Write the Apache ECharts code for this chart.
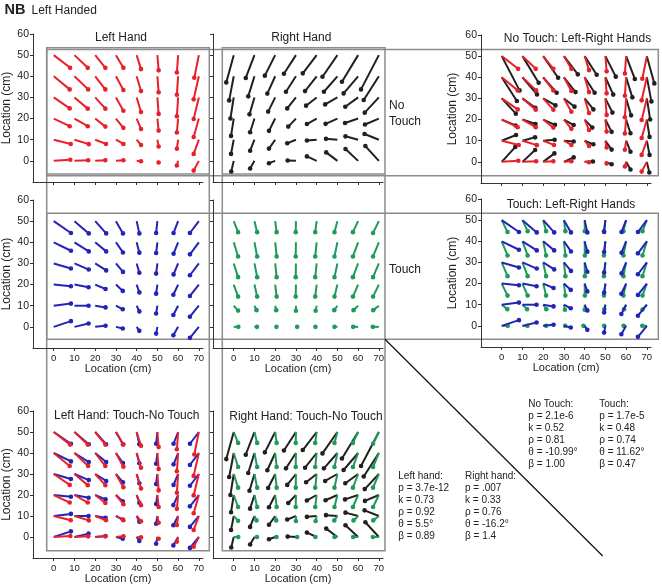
<!DOCTYPE html>
<html><head><meta charset="utf-8">
<script src="https://cdn.jsdelivr.net/npm/echarts@6/dist/echarts.min.js"></script>
<style>html,body{margin:0;padding:0;background:#fff}#c{width:662px;height:587px}</style>
</head><body><div id="c"></div>
<script>
// ---- grid locations (cm) ----
const gridX = [0, 10, 20, 30, 40, 50, 60, 70];
const gridY = [50, 40, 30, 20, 10, 0];
const xTicks = [0, 10, 20, 30, 40, 50, 60, 70];
const yTicks = [0, 10, 20, 30, 40, 50, 60];

// ---- perceived end locations, rows follow gridY, columns follow gridX ----
// Left hand, no touch (red)
const leftNoTouchEndX = [
  [7.9, 16.4, 24.9, 33.6, 42.1, 50.6, 59.4, 67.8],
  [7.7, 16.6, 24.9, 33.6, 42.1, 50.6, 59.4, 67.5],
  [7.7, 16.4, 24.9, 33.6, 42.1, 50.6, 59.4, 67.5],
  [7.7, 16.4, 24.9, 33.6, 42.1, 50.6, 59.4, 67.5],
  [8.2, 16.9, 25.2, 33.6, 42.1, 50.6, 59.4, 67.5],
  [8.0, 16.6, 24.9, 33.6, 42.1, 50.6, 59.4, 67.5]
];
const leftNoTouchEndY = [
  [44.0, 44.0, 44.0, 44.0, 43.4, 42.8, 41.8, 39.3],
  [33.8, 33.8, 33.8, 33.5, 33.0, 32.4, 31.3, 29.1],
  [24.8, 24.7, 24.7, 23.7, 23.1, 22.2, 21.1, 19.8],
  [16.4, 16.4, 16.2, 15.6, 15.1, 14.3, 13.4, 11.3],
  [8.0, 7.9, 8.0, 8.0, 7.5, 6.8, 5.7, 3.3],
  [0.5, 0.3, 0.3, 0.3, -0.2, -0.8, -2.2, -4.6]
];
// Right hand, no touch (black)
const rightNoTouchEndX = [
  [-3.6, 5.8, 15.0, 24.2, 33.3, 42.8, 52.2, 61.4],
  [-2.2, 7.0, 16.2, 25.2, 34.4, 43.5, 53.0, 62.7],
  [-1.6, 7.6, 16.6, 25.8, 34.9, 44.1, 53.8, 63.2],
  [-1.3, 7.9, 17.0, 26.3, 35.3, 44.3, 53.7, 63.3],
  [-1.3, 7.9, 17.0, 25.8, 35.3, 44.5, 53.9, 63.1],
  [-1.2, 7.9, 17.0, 26.0, 35.3, 44.6, 53.9, 63.5]
];
const rightNoTouchEndY = [
  [37.1, 39.2, 40.3, 41.2, 41.4, 39.8, 37.4, 33.8],
  [28.6, 30.5, 31.8, 32.7, 33.0, 32.7, 31.9, 28.8],
  [20.0, 22.0, 23.3, 24.8, 26.1, 26.7, 25.6, 22.8],
  [11.8, 13.5, 14.2, 16.2, 17.4, 17.5, 17.9, 17.2],
  [3.3, 4.8, 5.8, 8.3, 9.6, 10.4, 11.6, 12.7],
  [-5.0, -3.6, -1.1, 0.2, 2.1, 4.0, 5.6, 7.0]
];
// Left hand, touch (blue)
const leftTouchEndX = [
  [8.3, 16.9, 25.3, 33.4, 41.3, 49.4, 57.8, 65.7],
  [8.3, 16.9, 25.3, 33.4, 41.3, 49.4, 57.8, 65.7],
  [8.3, 16.9, 25.3, 33.4, 41.3, 49.4, 57.8, 65.7],
  [8.3, 16.8, 25.0, 33.3, 41.3, 49.4, 57.7, 65.7],
  [8.3, 16.8, 25.0, 33.3, 41.3, 49.4, 57.7, 65.7],
  [8.3, 16.8, 25.0, 33.3, 41.3, 49.4, 57.7, 65.7]
];
const leftTouchEndY = [
  [44.4, 44.2, 44.2, 44.2, 44.2, 44.4, 44.4, 44.4],
  [36.0, 35.7, 35.7, 35.2, 35.1, 34.9, 34.6, 34.3],
  [27.6, 27.1, 26.7, 26.0, 25.6, 25.2, 24.8, 24.4],
  [19.2, 18.7, 17.9, 17.0, 16.3, 15.7, 15.2, 14.6],
  [11.0, 10.0, 9.2, 8.3, 7.3, 6.3, 5.6, 4.8],
  [2.7, 1.6, 0.5, -0.8, -1.9, -3.2, -4.0, -5.2]
];
// Right hand, touch (green)
const rightTouchEndX = [
  [2.1, 11.3, 20.7, 29.9, 39.3, 48.6, 57.5, 67.2],
  [2.1, 11.3, 20.7, 29.9, 39.3, 48.6, 57.5, 67.2],
  [2.1, 11.3, 20.7, 29.9, 39.3, 48.6, 57.5, 67.2],
  [2.1, 11.3, 20.7, 29.9, 39.3, 48.6, 57.5, 67.2],
  [2.1, 11.0, 20.5, 30.0, 39.5, 48.5, 57.8, 67.3],
  [2.2, 11.2, 20.6, 30.6, 39.4, 48.6, 57.6, 67.1]
];
const rightTouchEndY = [
  [44.8, 44.8, 44.8, 44.8, 44.8, 44.8, 44.8, 44.4],
  [33.3, 33.3, 33.3, 33.3, 33.3, 33.3, 33.3, 33.3],
  [23.5, 23.5, 23.5, 23.5, 23.5, 23.5, 23.5, 23.5],
  [14.3, 14.3, 14.3, 14.3, 14.3, 14.3, 14.3, 14.3],
  [7.7, 7.9, 7.9, 7.6, 7.6, 7.9, 7.9, 7.9],
  [0.0, 0.0, 0.0, 0.0, 0.0, 0.0, 0.0, 0.0]
];

// ---- text ----
const panelTitles = ['Left Hand', 'Right Hand', 'No Touch: Left-Right Hands', 'Touch: Left-Right Hands',
  'Left Hand: Touch-No Touch', 'Right Hand: Touch-No Touch'];
const statsNoTouch = ['No Touch:', 'p = 2.1e-6', 'k = 0.52', 'ρ = 0.81', 'θ = -10.99°', 'β = 1.00'];
const statsTouch = ['Touch:', 'p = 1.7e-5', 'k = 0.48', 'ρ = 0.74', 'θ = 11.62°', 'β = 0.47'];
const statsLeft = ['Left hand:', 'p = 3.7e-12', 'k = 0.73', 'ρ = 0.92', 'θ = 5.5°', 'β = 0.89'];
const statsRight = ['Right hand:', 'p = .007', 'k = 0.33', 'ρ = 0.76', 'θ = -16.2°', 'β = 1.4'];

// ---- colours ----
const RED = '#e8202a', BLACK = '#231f20', BLUE = '#2323b8', GREEN = '#1f9a5a';
const FONT = '"Liberation Sans", Arial, sans-serif';

function vectors(endX, endY, mirror) {
  const out = [];
  gridY.forEach((y, r) => gridX.forEach((x, c) => {
    let x0 = x, x1 = endX[r][c];
    if (mirror) { x0 = 70 - x0; x1 = 70 - x1; }
    out.push([x0, y, x1, endY[r][c]]);
  }));
  return out;
}

function vecSeries(data, color, gi) {
  return {
    type: 'custom', xAxisIndex: gi, yAxisIndex: gi, data: data, clip: false, silent: true,
    encode: { x: [0, 2], y: [1, 3] },
    renderItem: function (params, api) {
      const p0 = api.coord([api.value(0), api.value(1)]);
      const p1 = api.coord([api.value(2), api.value(3)]);
      return { type: 'group', children: [
        { type: 'line', shape: { x1: p0[0], y1: p0[1], x2: p1[0], y2: p1[1] },
          style: { stroke: color, lineWidth: 2, lineCap: 'butt' } },
        { type: 'circle', shape: { cx: p1[0], cy: p1[1], r: 2.3 }, style: { fill: color } }
      ] };
    }
  };
}

// panel layout: [left, top, height, showXLabels, showYLabels, yNameGap]
const panels = [
  [33, 34, 148, false, true, 20],   // A left no touch
  [213, 34, 148, false, false, 20], // B right no touch
  [481, 35, 148, false, true, 22],  // C no touch overlay
  [33, 200, 148, true, true, 20],   // D left touch
  [213, 200, 148, true, false, 20], // E right touch
  [481, 199, 148, true, true, 22],  // F touch overlay
  [33, 411, 147, true, true, 20],   // G left T-NT
  [213, 411, 147, true, false, 20]  // H right T-NT
];

const grids = [], xAxes = [], yAxes = [];
panels.forEach((p, i) => {
  grids.push({ left: p[0], top: p[1], width: 170, height: p[2], containLabel: false });
  xAxes.push({
    type: 'value', gridIndex: i, min: -10, max: 72, position: 'bottom',
    axisLine: { show: true, onZero: false, lineStyle: { color: '#333', width: 1 } },
    axisTick: { show: true, length: 3, customValues: xTicks, lineStyle: { color: '#333' } },
    axisLabel: { show: p[3], customValues: xTicks, fontSize: 9.5, color: '#222', margin: 5, fontFamily: FONT },
    splitLine: { show: false },
    name: p[3] ? 'Location (cm)' : '', nameLocation: 'middle', nameGap: 15,
    nameTextStyle: { fontSize: 11, color: '#222', fontFamily: FONT }
  });
  yAxes.push({
    type: 'value', gridIndex: i, min: -10, max: 60, position: 'left',
    axisLine: { show: true, onZero: false, lineStyle: { color: '#333', width: 1 } },
    axisTick: { show: true, length: 3, customValues: yTicks, lineStyle: { color: '#333' } },
    axisLabel: { show: p[4], customValues: yTicks, fontSize: 10.5, color: '#222', margin: 4, fontFamily: FONT },
    splitLine: { show: false },
    name: p[4] ? 'Location (cm)' : '', nameLocation: 'middle', nameGap: p[5], nameRotate: 90,
    nameTextStyle: { fontSize: 12, color: '#222', fontFamily: FONT }
  });
});

const redV = vectors(leftNoTouchEndX, leftNoTouchEndY, false);
const blackV = vectors(rightNoTouchEndX, rightNoTouchEndY, false);
const blackM = vectors(rightNoTouchEndX, rightNoTouchEndY, true);
const blueV = vectors(leftTouchEndX, leftTouchEndY, false);
const greenV = vectors(rightTouchEndX, rightTouchEndY, false);
const greenM = vectors(rightTouchEndX, rightTouchEndY, true);

const series = [
  vecSeries(redV, RED, 0),
  vecSeries(blackV, BLACK, 1),
  vecSeries(blackM, BLACK, 2), vecSeries(redV, RED, 2),
  vecSeries(blueV, BLUE, 3),
  vecSeries(greenV, GREEN, 4),
  vecSeries(greenM, GREEN, 5), vecSeries(blueV, BLUE, 5),
  vecSeries(blueV, BLUE, 6), vecSeries(redV, RED, 6),
  vecSeries(blackV, BLACK, 7), vecSeries(greenV, GREEN, 7)
];

function txt(t, x, y, size, align, weight) {
  return { type: 'text', x: x, y: y, silent: true, z: 10,
    style: { text: t, fill: '#222', font: (weight || 'normal') + ' ' + size + 'px ' + FONT,
      align: align, textAlign: align, verticalAlign: 'middle', textVerticalAlign: 'middle' } };
}
const boxStyle = { stroke: '#8c8c8c', fill: 'none', lineWidth: 1.5 };
const graphics = [
  { type: 'rect', shape: { x: 46.7, y: 47.7, width: 162.6, height: 503 }, style: boxStyle },
  { type: 'rect', shape: { x: 222.3, y: 47.7, width: 162.7, height: 503 }, style: boxStyle },
  { type: 'line', shape: { x1: 46.7, y1: 174, x2: 209.3, y2: 174 }, style: boxStyle },
  { type: 'line', shape: { x1: 222.3, y1: 174, x2: 385, y2: 174 }, style: boxStyle },
  { type: 'rect', shape: { x: 46.7, y: 49.5, width: 611.6, height: 126.3 }, style: boxStyle },
  { type: 'rect', shape: { x: 46.7, y: 213.3, width: 611.6, height: 126 }, style: boxStyle },
  { type: 'line', shape: { x1: 385, y1: 339.3, x2: 602.7, y2: 556 }, style: { stroke: '#111', lineWidth: 1.2 } },
  txt('NB', 4.5, 9.5, 14.5, 'left', 'bold'),
  txt('Left Handed', 31.5, 10.3, 12, 'left'),
  txt(panelTitles[0], 121, 37.5, 12, 'center'),
  txt(panelTitles[1], 301.3, 37.3, 12, 'center'),
  txt(panelTitles[2], 577.5, 38.5, 12, 'center'),
  txt(panelTitles[3], 571, 204.2, 12, 'center'),
  txt(panelTitles[4], 126.7, 415.2, 12, 'center'),
  txt(panelTitles[5], 306, 416.5, 12, 'center'),
  txt('No', 389, 106, 12, 'left'),
  txt('Touch', 389, 122, 12, 'left'),
  txt('Touch', 389, 270, 12, 'left')
];
[[statsNoTouch, 528.3, 404.7], [statsTouch, 599.3, 404.7], [statsLeft, 398.3, 476.3], [statsRight, 465, 476.3]]
  .forEach(b => b[0].forEach((t, k) => graphics.push(txt(t, b[1], b[2] + 12 * k, 10, 'left'))));

const chart = echarts.init(document.getElementById('c'), null, { renderer: 'canvas' });
chart.setOption({
  animation: false,
  backgroundColor: '#fff',
  grid: grids, xAxis: xAxes, yAxis: yAxes,
  series: series,
  graphic: { elements: graphics }
});
</script></body></html>
